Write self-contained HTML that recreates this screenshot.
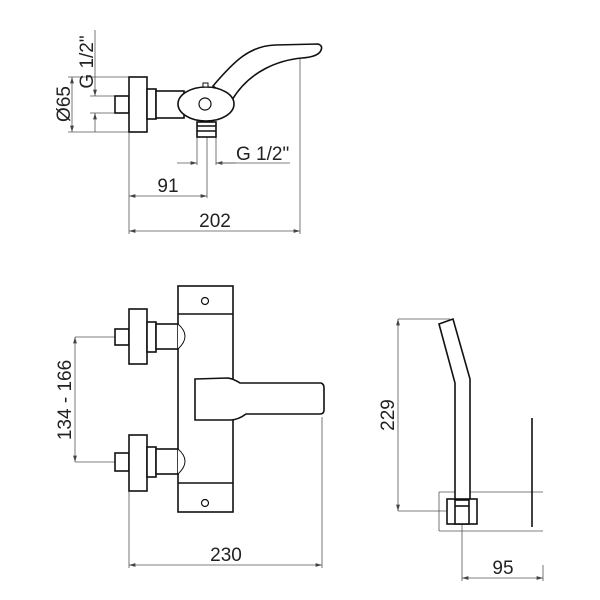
<!DOCTYPE html>
<html><head><style>html,body{margin:0;padding:0;background:#fff}svg{display:block}text{font-family:"Liberation Sans",sans-serif;font-size:19px;fill:#222}</style></head>
<body>
<svg width="600" height="600" viewBox="0 0 600 600">
<defs>
<marker id="a" viewBox="0 0 10 6" refX="10" refY="3" markerWidth="8" markerHeight="5" orient="auto-start-reverse"><path d="M0,0L10,3L0,6z" fill="#444"/></marker>
</defs>
<g fill="none" stroke="#555" stroke-width="0.8">
<line x1="68" y1="77" x2="129" y2="77"/><line x1="68" y1="132" x2="129" y2="132"/>
<line x1="72" y1="77" x2="72" y2="132" marker-start="url(#a)" marker-end="url(#a)"/>
<line x1="90" y1="96" x2="115" y2="96"/><line x1="90" y1="113" x2="115" y2="113"/>
<line x1="95" y1="30" x2="95" y2="96" marker-end="url(#a)"/>
<line x1="95" y1="113" x2="95" y2="132" marker-start="url(#a)"/>
<line x1="129" y1="132" x2="129" y2="234"/>
<line x1="207" y1="137" x2="207" y2="198"/>
<line x1="197" y1="137" x2="197" y2="165"/><line x1="216" y1="137" x2="216" y2="165"/>
<line x1="300" y1="57" x2="300" y2="234"/>
<line x1="177" y1="163" x2="197" y2="163" marker-end="url(#a)"/>
<line x1="236" y1="163" x2="216" y2="163" marker-end="url(#a)"/>
<line x1="216" y1="163" x2="290" y2="163"/>
<line x1="129" y1="196" x2="207" y2="196" marker-start="url(#a)" marker-end="url(#a)"/>
<line x1="129" y1="231" x2="300" y2="231" marker-start="url(#a)" marker-end="url(#a)"/>
<line x1="75" y1="337" x2="115" y2="337"/><line x1="75" y1="462" x2="115" y2="462"/>
<line x1="75" y1="337" x2="75" y2="462" marker-start="url(#a)" marker-end="url(#a)"/>
<line x1="129" y1="491" x2="129" y2="568"/><line x1="322" y1="417" x2="322" y2="568"/>
<line x1="129" y1="565" x2="322" y2="565" marker-start="url(#a)" marker-end="url(#a)"/>
<line x1="398" y1="319" x2="450" y2="319"/><line x1="398" y1="511" x2="447" y2="511"/>
<line x1="398" y1="319" x2="398" y2="511" marker-start="url(#a)" marker-end="url(#a)"/>
<line x1="462" y1="505" x2="462" y2="581"/><line x1="543" y1="565" x2="543" y2="581"/>
<line x1="462" y1="578" x2="543" y2="578" marker-start="url(#a)" marker-end="url(#a)"/>
<line x1="439" y1="492" x2="543" y2="492"/><line x1="439" y1="531" x2="543" y2="531"/>
<line x1="439" y1="492" x2="439" y2="531"/>
</g>
<g fill="#fff" stroke="#111" stroke-width="1.6">
<path d="M213,86 C235,60 250,46 275,45 L318,44 Q324,46 320,52 Q316,57 302,58 C280,60 250,70 232,100 Z"/>
<rect x="115" y="96" width="14" height="17"/>
<rect x="129" y="77" width="18" height="55"/>
<rect x="147" y="89" width="9" height="30"/>
<rect x="156" y="91" width="28" height="27"/>
<rect x="197" y="122" width="19" height="15"/>
<line x1="197" y1="126" x2="216" y2="126"/><line x1="197" y1="131" x2="216" y2="131"/>
<ellipse cx="206" cy="104" rx="28" ry="17"/>
<circle cx="205" cy="104" r="6" stroke-width="1.2"/>
<rect x="203" y="83" width="5" height="4" stroke-width="1"/>
<rect x="178" y="286" width="55" height="226"/>
<line x1="178" y1="314" x2="233" y2="314"/><line x1="178" y1="483" x2="233" y2="483"/>
<circle cx="205" cy="301" r="3.5" stroke-width="1.2"/>
<circle cx="205" cy="503" r="3.5" stroke-width="1.2"/>
<path d="M195,379 L228,378 Q234,379 240,383 L321,383 Q324,384 324,388 L324,410 Q324,414 320,414 L246,414 Q238,420 230,420 L195,420 Z"/>
<rect x="115" y="329" width="14" height="16"/><rect x="129" y="309" width="18" height="55"/>
<rect x="147" y="322" width="9" height="30"/><rect x="156" y="324" width="22" height="25"/>
<path d="M178,324 Q192,336 178,349" stroke-width="1"/>
<rect x="115" y="453" width="14" height="18"/><rect x="129" y="435" width="18" height="56"/>
<rect x="147" y="447" width="9" height="30"/><rect x="156" y="449" width="22" height="25"/>
<path d="M178,449 Q192,461 178,474" stroke-width="1"/>
<path d="M439,324 L453,319 L470,379 L470,500 L455,500 L455,383 Z"/>
<rect x="447" y="499" width="30" height="25"/>
<rect x="455" y="500" width="14" height="24"/>
<line x1="455" y1="506" x2="469" y2="506"/>
<line x1="532" y1="418" x2="532" y2="527"/>
</g>
<text transform="translate(70,104) rotate(-90)" text-anchor="middle">Ø65</text>
<text transform="translate(93,62) rotate(-90)" text-anchor="middle">G 1/2"</text>
<text x="236" y="160">G 1/2"</text>
<text x="168" y="192" text-anchor="middle">91</text>
<text x="215" y="227" text-anchor="middle">202</text>
<text transform="translate(71,400) rotate(-90)" text-anchor="middle">134 - 166</text>
<text x="226" y="561" text-anchor="middle">230</text>
<text transform="translate(394,415) rotate(-90)" text-anchor="middle">229</text>
<text x="503" y="574" text-anchor="middle">95</text>
</svg>
</body></html>
